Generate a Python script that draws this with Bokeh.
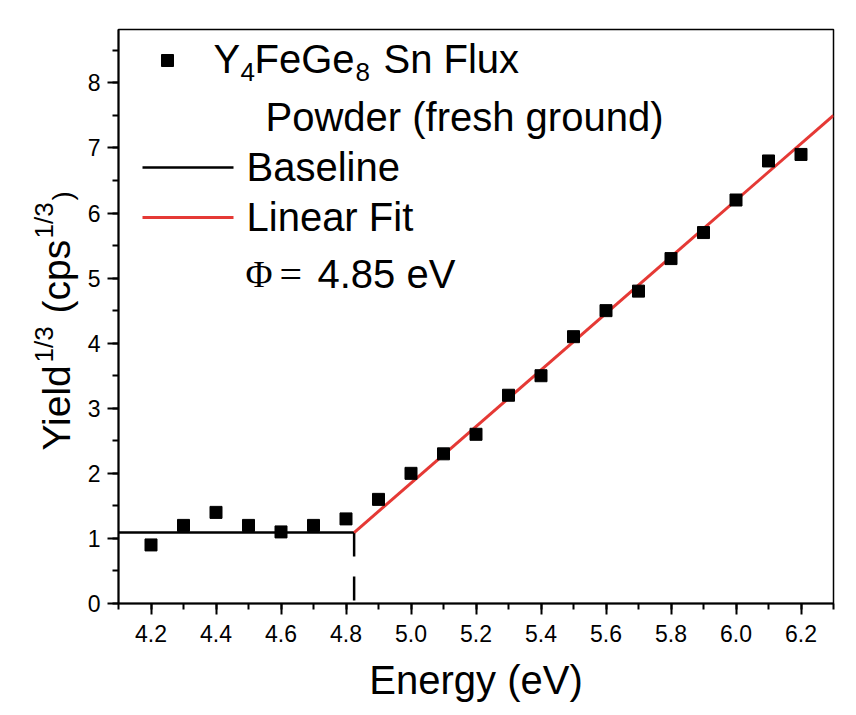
import math
from bokeh.plotting import figure
from bokeh.layouts import row
from bokeh.models import Label, SingleIntervalTicker, NumeralTickFormatter, ColumnDataSource, Range1d
from bokeh.core.properties import value
from bokeh.embed import file_html
from bokeh.resources import INLINE

# ---------------- data ----------------
energy = [4.2, 4.3, 4.4, 4.5, 4.6, 4.7, 4.8, 4.9, 5.0, 5.1, 5.2,
          5.3, 5.4, 5.5, 5.6, 5.7, 5.8, 5.9, 6.0, 6.1, 6.2]
yield_cbrt = [0.9, 1.2, 1.4, 1.2, 1.1, 1.2, 1.3, 1.6, 2.0, 2.3, 2.6,
              3.2, 3.5, 4.1, 4.5, 4.8, 5.3, 5.7, 6.2, 6.8, 6.9]
baseline_x = [4.1, 4.825]
baseline_y = [1.09, 1.09]
fit_x = [4.825, 6.3]
fit_y = [1.09, 7.5]
onset_x = [4.825, 4.825]
onset_y = [1.09, 0.0]

x_range = (4.1, 6.3)
y_range = (0.0, 8.82)

FONT = "Liberation Sans"
SERIF = "Liberation Serif"
RED = "#e53935"
BASE_SHIFT = 0.35  # em offset applied so that texts sit on their alphabetic baseline

# ---------------- layout (pixels) ----------------
W, H = 856, 715
LW = 84                     # width of the strip that carries the y title
L, R, T, B = 118, 23, 29, 112
X0, X1 = L, W - R
Y1, Y0 = T, H - B


def dx(px):
    return x_range[0] + (px - X0) / (X1 - X0) * (x_range[1] - x_range[0])


def dy(py):
    return y_range[0] + (Y0 - py) / (Y0 - Y1) * (y_range[1] - y_range[0])


p = figure(width=W - LW, height=H, x_range=x_range, y_range=y_range,
           output_backend="svg", toolbar_location=None,
           min_border_left=L - LW, min_border_right=R, min_border_top=T, min_border_bottom=B)
p.xgrid.visible = False
p.ygrid.visible = False
p.outline_line_color = "black"
p.outline_line_width = 1.5
p.background_fill_color = "white"
p.border_fill_color = "white"

p.xaxis.ticker = SingleIntervalTicker(interval=0.2, num_minor_ticks=2)
p.yaxis.ticker = SingleIntervalTicker(interval=1, num_minor_ticks=2)
p.xaxis.formatter = NumeralTickFormatter(format="0.0")
p.yaxis.formatter = NumeralTickFormatter(format="0")
for ax in (p.xaxis, p.yaxis):
    ax.axis_line_width = 2
    ax.major_tick_line_width = 2
    ax.minor_tick_line_width = 2
    ax.major_tick_in = 0
    ax.minor_tick_in = 0
    ax.major_tick_out = 11
    ax.minor_tick_out = 6
    ax.major_label_text_font = FONT
    ax.major_label_text_font_size = "23px"
    ax.major_label_text_color = "black"
    ax.axis_line_color = "black"
    ax.major_tick_line_color = "black"
    ax.minor_tick_line_color = "black"
p.xaxis.major_label_standoff = 10
p.yaxis.major_label_standoff = 7
p.xaxis.axis_label = "Energy (eV)"
p.xaxis.axis_label_text_font = FONT
p.xaxis.axis_label_text_font_size = "40px"
p.xaxis.axis_label_text_font_style = "normal"
p.xaxis.axis_label_text_color = "black"
p.xaxis.axis_label_standoff = 13

# ---------------- marks ----------------
src = ColumnDataSource(dict(x=energy, y=yield_cbrt))
p.line(baseline_x, baseline_y, line_color="black", line_width=2.5)
p.line(onset_x, onset_y, line_color="black", line_width=2.5, line_dash="24 20")
p.line(fit_x, fit_y, line_color=RED, line_width=3)
p.scatter("x", "y", source=src, marker="square", size=12, fill_color="black", line_color="black")


# ---------------- legend (manual) ----------------
def lab(text, px, py, size, font=FONT):
    p.add_layout(Label(x=dx(px), y=dy(py - BASE_SHIFT * size), text=text, text_font=font,
                       text_font_size=f"{size}px", text_color="black",
                       text_align="left", text_baseline="alphabetic"))


LS = 40
SUB = 26
p.scatter([dx(167)], [dy(60)], marker="square", size=12, fill_color="black", line_color="black")
lab("Y", 213, 72, LS)
lab("4", 240, 81, SUB)
lab("FeGe", 254, 72, LS)
lab("8", 355, 81, SUB)
lab("Sn Flux", 383, 72, LS)
lab("Powder (fresh ground)", 265, 130, LS)
p.line([dx(142), dx(233)], [dy(167), dy(167)], line_color="black", line_width=2.5)
lab("Baseline", 246, 180, LS)
p.line([dx(142), dx(233)], [dy(217), dy(217)], line_color=RED, line_width=3)
lab("Linear Fit", 246, 230, LS)
lab("\u03a6", 245, 287, 37, font=SERIF)
lab("=", 279, 288, 40, font=SERIF)
lab("4.85 eV", 317, 287, LS)

# ---------------- y title strip ----------------
# the strip's frame is aligned with the main frame (rows align frames), so give it the
# same vertical borders and a pixel-like range
q = figure(width=LW, height=H, x_range=Range1d(0, LW), y_range=Range1d(H - Y0, H - Y1),
           output_backend="svg", toolbar_location=None,
           x_axis_location=None, y_axis_location=None,
           min_border_left=0, min_border_right=0, min_border_top=T, min_border_bottom=B)
q.xgrid.visible = False
q.ygrid.visible = False
q.outline_line_color = None
q.background_fill_color = "white"
q.border_fill_color = "white"

# (text, font size px, baseline x px, start y px from top)
ytitle = [("Yield", 39, 70, 450), ("1/3", 26, 53, 362), ("(cps", 39, 70, 313),
          ("1/3", 26, 53, 238), (")", 28, 72, 200)]
for txt, size, bx, sy in ytitle:
    q.text(x=[bx - BASE_SHIFT * size], y=[H - sy], text=[txt], angle=math.pi / 2,
           text_font=value(FONT), text_font_size=value(f"{size}px"), text_color="black",
           text_align="left", text_baseline="alphabetic")

layout = row(q, p)
open("out.html", "w").write(file_html(layout, INLINE))
